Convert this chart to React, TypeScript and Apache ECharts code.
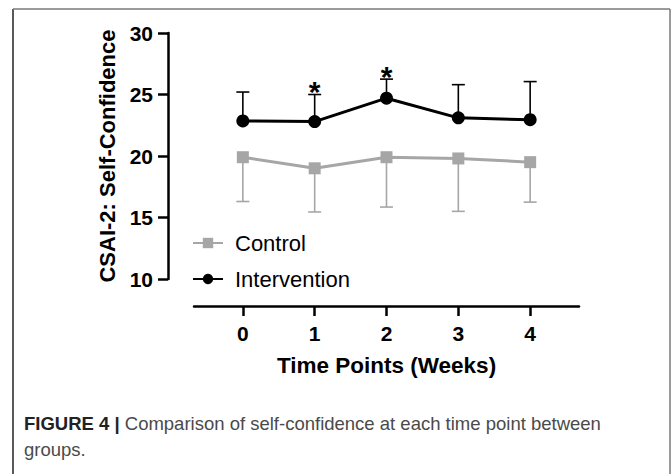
import React, { useEffect, useRef } from "react";
import * as echarts from "echarts";

const weeks = [0, 1, 2, 3, 4];
const controlMean = [19.9, 19.0, 19.9, 19.8, 19.5];
const controlLower = [16.3, 15.45, 15.85, 15.5, 16.25];
const interventionMean = [22.85, 22.8, 24.7, 23.1, 22.95];
const interventionUpper = [25.2, 25.0, 26.25, 25.8, 26.05];
const significant = [false, true, true, false, false];
const yTicks = [10, 15, 20, 25, 30];

const FONT = "'Liberation Sans', Arial, Helvetica, sans-serif";
const GRAY = "#a6a6a6";

export default function App() {
  const ref = useRef<HTMLDivElement>(null);
  useEffect(() => {
    if (!ref.current) return;
    const chart = echarts.init(ref.current, undefined, { renderer: "svg" });

    const errRender = (color: string, withStar: boolean) => (params: any, api: any) => {
      const x = api.value(0);
      const m = api.value(1);
      const b = api.value(2);
      const sig = api.value(3);
      const p0 = api.coord([x, m]);
      const p1 = api.coord([x, b]);
      const children: any[] = [
        { type: "line", shape: { x1: p0[0], y1: p0[1], x2: p1[0], y2: p1[1] }, style: { stroke: color, lineWidth: 1.6 } },
        { type: "line", shape: { x1: p1[0] - 6.5, y1: p1[1], x2: p1[0] + 6.5, y2: p1[1] }, style: { stroke: color, lineWidth: 1.6 } },
      ];
      if (withStar && sig) {
        children.push({
          type: "text",
          style: { text: "*", x: p1[0], y: p1[1] - 3, align: "center", verticalAlign: "middle", fontSize: 30, fontWeight: "bold", fontFamily: FONT, fill: "#000" },
        });
      }
      return { type: "group", children };
    };

    const option: any = {
      animation: false,
      textStyle: { fontFamily: FONT },
      grid: { left: 194, right: 93, top: 33, bottom: 195, containLabel: false },
      legend: {
        orient: "vertical",
        left: 187,
        top: 227,
        itemWidth: 30,
        itemHeight: 13,
        itemGap: 14,
        data: ["Control", "Intervention"],
        textStyle: { fontSize: 22, lineHeight: 22, color: "#000", fontFamily: FONT, padding: [0, 0, 0, 7] },
      },
      xAxis: {
        type: "value",
        min: -0.68,
        max: 4.68,
        position: "bottom",
        offset: 27,
        name: "Time Points (Weeks)",
        nameLocation: "middle",
        nameGap: 48,
        nameTextStyle: { fontSize: 22.5, fontWeight: "bold", color: "#000", fontFamily: FONT },
        axisLine: { show: true, onZero: false, lineStyle: { color: "#000", width: 2.5 } },
        axisTick: { show: true, length: 10, lineStyle: { color: "#000", width: 2.5 }, customValues: weeks },
        axisLabel: { customValues: weeks, fontSize: 21, fontWeight: "bold", color: "#000", margin: 17, fontFamily: FONT },
        splitLine: { show: false },
      },
      yAxis: {
        type: "value",
        min: 10,
        max: 30,
        interval: 5,
        position: "left",
        offset: 26,
        name: "CSAI-2: Self-Confidence",
        nameLocation: "middle",
        nameRotate: 90,
        nameGap: 46,
        nameTextStyle: { fontSize: 22, fontWeight: "bold", color: "#000", fontFamily: FONT },
        axisLine: { show: true, onZero: false, lineStyle: { color: "#000", width: 2.5 } },
        axisTick: { show: true, length: 10, lineStyle: { color: "#000", width: 2.5 }, customValues: yTicks },
        axisLabel: { customValues: yTicks, fontSize: 21, fontWeight: "bold", color: "#000", margin: 15, fontFamily: FONT },
        splitLine: { show: false },
      },
      series: [
        {
          type: "custom",
          name: "controlErr",
          renderItem: errRender(GRAY, false),
          data: weeks.map((w, i) => [w, controlMean[i], controlLower[i], 0]),
          z: 1,
          silent: true,
        },
        {
          type: "custom",
          name: "interventionErr",
          renderItem: errRender("#000", true),
          data: weeks.map((w, i) => [w, interventionMean[i], interventionUpper[i], significant[i] ? 1 : 0]),
          z: 1,
          silent: true,
        },
        {
          type: "line",
          name: "Control",
          data: weeks.map((w, i) => [w, controlMean[i]]),
          symbol: "rect",
          symbolSize: 12,
          lineStyle: { color: GRAY, width: 3 },
          itemStyle: { color: GRAY },
          z: 3,
        },
        {
          type: "line",
          name: "Intervention",
          data: weeks.map((w, i) => [w, interventionMean[i]]),
          symbol: "circle",
          symbolSize: 13,
          lineStyle: { color: "#000", width: 3 },
          itemStyle: { color: "#000" },
          z: 4,
        },
      ],
      graphic: [
        { type: "line", shape: { x1: 13, y1: 9, x2: 13, y2: 474 }, style: { stroke: "#222", lineWidth: 1.5 } },
        { type: "line", shape: { x1: 13, y1: 9, x2: 670, y2: 9 }, style: { stroke: "#7a7a7a", lineWidth: 1.5 } },
        { type: "line", shape: { x1: 670, y1: 9, x2: 670, y2: 474 }, style: { stroke: "#7a7a7a", lineWidth: 1.5 } },
        {
          type: "text",
          left: 24,
          top: 414,
          style: {
            text: "{b|FIGURE 4 |} {n|Comparison of self-confidence at each time point between}",
            rich: {
              b: { fontSize: 18.5, fontWeight: "bold", fill: "#222", fontFamily: FONT },
              n: { fontSize: 18.5, fill: "#4a4a4a", fontFamily: FONT },
            },
            fontSize: 18.5,
            fontFamily: FONT,
            fill: "#4a4a4a",
          },
        },
        {
          type: "text",
          left: 24,
          top: 440,
          style: { text: "groups.", fontSize: 18.5, fill: "#4a4a4a", fontFamily: FONT },
        },
      ],
    };
    chart.setOption(option);
    return () => chart.dispose();
  }, []);
  return <div ref={ref} style={{ position: "fixed", left: 0, top: 0, width: 672, height: 474, background: "#fff" }} />;
}
